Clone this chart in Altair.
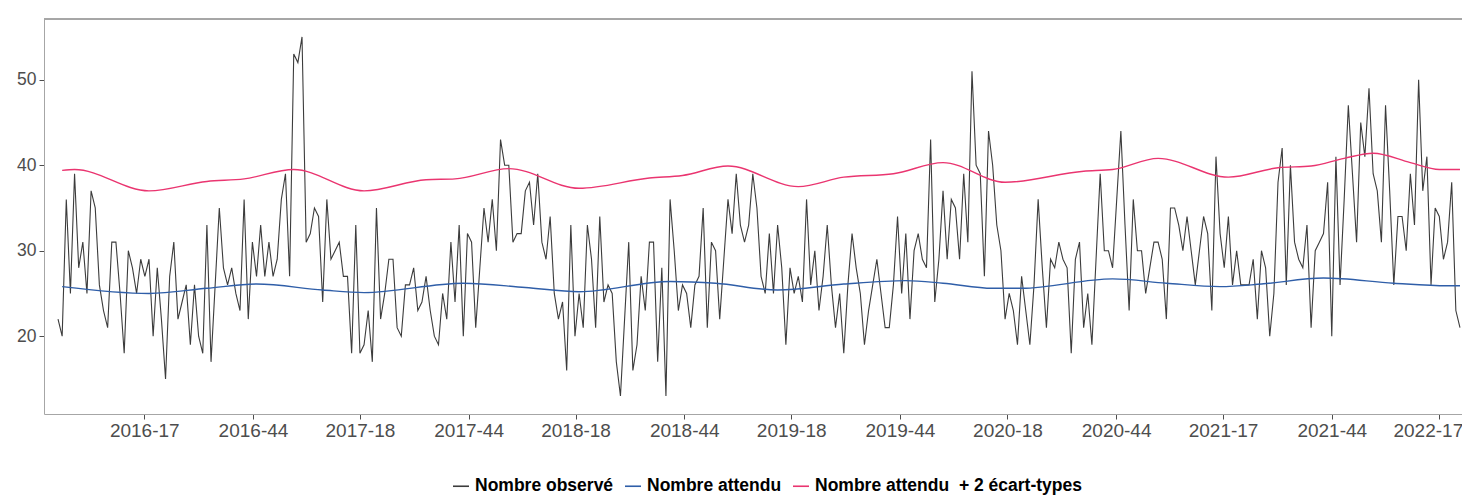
import altair as alt
import pandas as pd

# ---------------- data ----------------
start_date = "2015-12-07"  # first week (ISO 2015-50), weekly series

observed = [
    22, 20, 36, 25, 39, 28, 31, 25, 37, 35, 26, 23, 21, 31, 31, 25, 18, 30, 28, 25,
    29, 27, 29, 20, 28, 22, 15, 27, 31, 22, 24, 26, 19, 26, 20, 18, 33, 17, 26, 35,
    28, 26, 28, 25, 23, 36, 22, 31, 27, 33, 27, 31, 27, 29, 36, 39, 27, 53, 52, 55,
    31, 32, 35, 34, 24, 36, 29, 30, 31, 27, 27, 18, 33, 18, 19, 23, 17, 35, 22, 25,
    29, 29, 21, 20, 26, 26, 28, 23, 24, 27, 23, 20, 19, 25, 22, 31, 24, 33, 20, 32,
    31, 21, 28, 35, 31, 36, 30, 43, 40, 40, 31, 32, 32, 37, 38, 33, 39, 31, 29, 34,
    25, 22, 24, 16, 33, 20, 25, 21, 33, 29, 21, 34, 24, 26, 25, 17, 13, 22, 31, 16,
    19, 27, 23, 31, 31, 17, 28, 13, 36, 30, 23, 26, 25, 21, 26, 27, 35, 21, 31, 30,
    22, 29, 36, 32, 39, 33, 31, 33, 39, 35, 27, 25, 32, 25, 33, 28, 19, 28, 25, 27,
    24, 36, 26, 30, 23, 27, 33, 26, 21, 25, 18, 26, 32, 28, 25, 19, 23, 26, 29, 25,
    21, 21, 26, 34, 25, 32, 22, 30, 32, 29, 28, 43, 24, 29, 37, 29, 36, 35, 29, 39,
    31, 51, 40, 39, 27, 44, 40, 33, 30, 22, 25, 23, 19, 27, 23, 19, 26, 36, 28, 21,
    29, 28, 31, 29, 28, 18, 29, 31, 21, 25, 19, 29, 39, 30, 30, 28, 36, 44, 33, 23,
    36, 30, 30, 25, 28, 31, 31, 29, 22, 35, 35, 33, 30, 34, 30, 26, 30, 34, 32, 23,
    41, 32, 28, 34, 26, 30, 26, 26, 26, 29, 22, 30, 28, 20, 25, 38, 42, 26, 40, 31,
    29, 28, 33, 21, 30, 31, 32, 38, 20, 41, 26, 36, 47, 39, 31, 45, 41, 49, 39, 37,
    31, 47, 37, 26, 34, 34, 30, 39, 33, 50, 37, 41, 26, 35, 34, 29, 31, 38, 23, 21,
]

# expected number (smooth curve), sampled at week indices
expected_weeks = [1, 22, 36, 48, 64, 74, 98, 113, 126, 148, 159, 174, 190, 205, 214,
                  226, 233, 255, 268, 281, 291, 306, 323, 336, 339]
expected_values = [25.8, 25.0, 25.6, 26.1, 25.4, 25.1, 26.2, 25.7, 25.2, 26.4, 26.2,
                   25.4, 26.1, 26.5, 26.2, 25.6, 25.6, 26.7, 26.2, 25.8, 26.1, 26.8,
                   26.2, 25.9, 25.9]

# expected + 2 standard deviations, sampled at week indices
upper_weeks = [1, 4, 22, 36, 45, 57, 74, 89, 96, 109, 126, 143, 151, 162, 179, 190,
               202, 214, 229, 248, 255, 266, 283, 295, 303, 311, 318, 327, 334, 339]
upper_values = [39.4, 39.5, 37.0, 38.1, 38.4, 39.5, 37.0, 38.3, 38.4, 39.6, 37.3, 38.5,
                38.8, 39.9, 37.5, 38.6, 39.0, 40.3, 38.0, 39.3, 39.5, 40.8, 38.6, 39.7,
                39.9, 40.8, 41.4, 40.3, 39.5, 39.5]

tick_dates = ["2016-05-01", "2016-11-01", "2017-05-01", "2017-11-01", "2018-05-01",
              "2018-11-01", "2019-05-01", "2019-11-01", "2020-05-01", "2020-11-01",
              "2021-05-01", "2021-11-01", "2022-05-01"]
y_ticks = [20, 30, 40, 50]

series_names = ["Nombre observé", "Nombre attendu", "Nombre attendu\u00a0 + 2 écart-types"]
series_colors = ["#3c3c3c", "#2f5ea8", "#ea3570"]

# ---------------- frames ----------------
dates = pd.date_range(start_date, periods=len(observed), freq="7D")
date_str = [d.strftime("%Y-%m-%d") for d in dates]

obs_df = pd.DataFrame({"date": date_str, "value": observed, "serie": series_names[0]})
exp_df = pd.DataFrame({"date": [date_str[k] for k in expected_weeks],
                       "value": expected_values, "serie": series_names[1]})
up_df = pd.DataFrame({"date": [date_str[k] for k in upper_weeks],
                      "value": upper_values, "serie": series_names[2]})
smooth_df = pd.concat([exp_df, up_df], ignore_index=True)


def ms(ts):
    return int(pd.Timestamp(ts).value // 10**6)


PLOT_W = 1418          # visible part of the panel (panel continues past the window)
FULL_W = 1430          # full panel width in the original
PLOT_H = 395

span = dates[-1] - dates[0]
left = dates[0] - span * 0.01
full_right = dates[-1] + span * 0.01
right = left + (full_right - left) * (PLOT_W / FULL_W)
x_domain = [ms(left), ms(right)]
tick_ms = [ms(t) for t in tick_dates]

FONT = "Liberation Sans"
GREY_TXT = "#4d4d4d"
BORDER = "#a6a6a6"

x_enc = alt.X(
    "date:T",
    scale=alt.Scale(type="utc", domain=x_domain),
    axis=alt.Axis(values=tick_ms, labelExpr="utcFormat(datum.value, '%Y-%V')",
                  title=None, labelFontSize=19, labelColor=GREY_TXT,
                  tickColor=GREY_TXT, tickSize=5, labelPadding=2, domain=True,
                  domainColor=BORDER, grid=False, labelFlush=30,
                  labelFlushOffset=24, labelOverlap=False),
)
y_enc = alt.Y(
    "value:Q",
    scale=alt.Scale(domain=[10.9, 57.1], nice=False, zero=False),
    axis=alt.Axis(values=y_ticks, title=None, labelFontSize=17.5, labelColor=GREY_TXT,
                  tickColor=GREY_TXT, tickSize=5, labelPadding=3, domain=True,
                  domainColor=BORDER, grid=False),
)
color_enc = alt.Color(
    "serie:N",
    scale=alt.Scale(domain=series_names, range=series_colors),
    legend=alt.Legend(
        title=None, orient="none", legendX=408, legendY=458, direction="horizontal",
        symbolType="stroke", symbolSize=256, symbolStrokeWidth=1.6,
        labelFont=FONT, labelFontSize=17.5, labelFontWeight="bold", labelColor="black",
        labelOffset=5, columnPadding=7, labelLimit=0,
    ),
)

obs_layer = alt.Chart(obs_df).mark_line(strokeWidth=1.1).encode(
    x=x_enc, y=y_enc, color=color_enc
)
smooth_layer = alt.Chart(smooth_df).mark_line(strokeWidth=1.4, interpolate="monotone").encode(
    x=x_enc, y=y_enc, color=color_enc
)
top_border = alt.Chart(obs_df).mark_rule(color=BORDER, strokeWidth=1).encode(
    x=alt.value(0), x2=alt.value(PLOT_W), y=alt.value(0)
)

chart = (
    alt.layer(obs_layer, smooth_layer, top_border)
    .properties(width=PLOT_W, height=PLOT_H, autosize="none",
                padding={"left": 36, "top": 11, "right": 0, "bottom": 85},
                background="white")
    .configure_view(stroke=None)
    .configure_axis(labelFont=FONT)
)

chart.save("out.html", embed_options={"renderer": "svg", "actions": False})
